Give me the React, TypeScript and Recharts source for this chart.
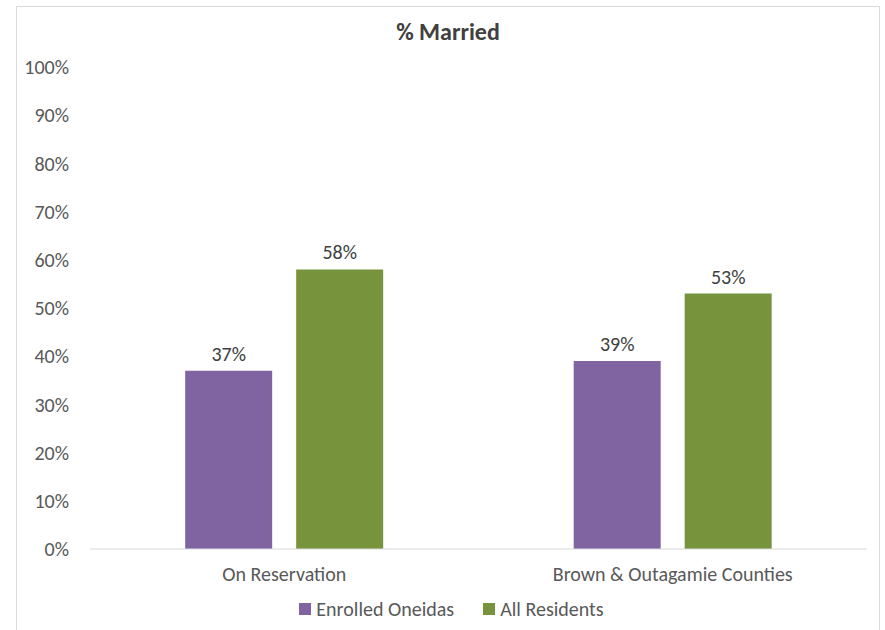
import React from 'react';
import { BarChart, Bar, XAxis, YAxis, Legend, LabelList } from 'recharts';

const categories = ['On Reservation', 'Brown & Outagamie Counties'];
const enrolledOneidas = [37, 39];
const allResidents = [58, 53];
const yTicks = [0, 10, 20, 30, 40, 50, 60, 70, 80, 90, 100];

const chartData = categories.map((name, i) => ({
  name,
  enrolled: enrolledOneidas[i],
  all: allResidents[i],
}));

const FONT = "Carlito, Lato, 'Open Sans', sans-serif";

const LegendContent = () => (
  <div style={{ display: 'flex', justifyContent: 'center', alignItems: 'center', paddingTop: 4, paddingLeft: 19, fontFamily: FONT, fontSize: 20, color: '#595959' }}>
    <span style={{ display: 'inline-block', width: 12, height: 12, background: '#8064A2', marginRight: 5 }} />
    <span style={{ marginRight: 29 }}>Enrolled Oneidas</span>
    <span style={{ display: 'inline-block', width: 12, height: 12, background: '#77933C', marginRight: 5 }} />
    <span>All Residents</span>
  </div>
);

const App: React.FC = () => {
  return (
    <div style={{ position: 'absolute', left: 16, top: 6, width: 864, height: 640, border: '1px solid #d9d9d9', background: '#fff', boxSizing: 'border-box' }}>
      <div style={{ position: 'absolute', top: 10, width: '100%', textAlign: 'center', fontFamily: FONT, fontWeight: 'bold', fontSize: 24, color: '#404040' }}>
        % Married
      </div>
      <BarChart width={864} height={624} data={chartData} margin={{ top: 60, right: 14, left: 0, bottom: 0 }} barCategoryGap="24.5%" barGap={24}>
        <XAxis dataKey="name" axisLine={{ stroke: '#d9d9d9' }} tickLine={false} height={44} tickMargin={12}
          tick={{ fill: '#595959', fontSize: 20, fontFamily: FONT }} />
        <YAxis domain={[0, 100]} ticks={yTicks} interval={0} width={73} axisLine={false} tickLine={false} tickSize={0} tickMargin={21}
          tickFormatter={(v) => `${v}%`} tick={{ fill: '#595959', fontSize: 20, fontFamily: FONT }} />
        <Legend verticalAlign="bottom" height={38} content={<LegendContent />} />
        <Bar dataKey="enrolled" name="Enrolled Oneidas" fill="#8064A2" isAnimationActive={false}>
          <LabelList dataKey="enrolled" position="top" offset={10} formatter={(v: number) => `${v}%`} fill="#404040" fontSize={20} fontFamily={FONT} />
        </Bar>
        <Bar dataKey="all" name="All Residents" fill="#77933C" isAnimationActive={false}>
          <LabelList dataKey="all" position="top" offset={10} formatter={(v: number) => `${v}%`} fill="#404040" fontSize={20} fontFamily={FONT} />
        </Bar>
      </BarChart>
    </div>
  );
};

export default App;
